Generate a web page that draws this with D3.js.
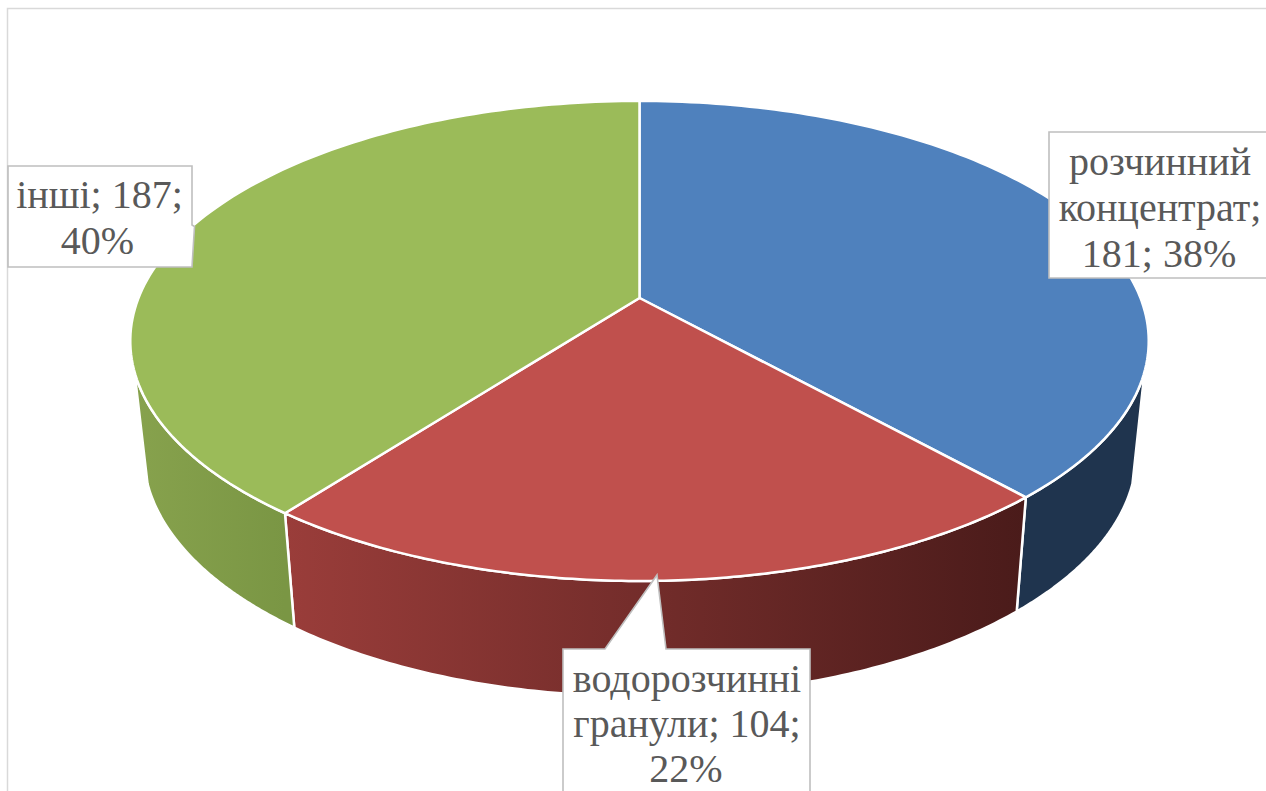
<!DOCTYPE html>
<html>
<head>
<meta charset="utf-8">
<script src="https://cdn.jsdelivr.net/npm/d3@7"></script>
<style>
html, body { margin: 0; padding: 0; background: #fff; overflow: hidden; }
svg { display: block; }
.label-box { fill: #fff; stroke: #bfbfbf; stroke-width: 1.6; }
.label-text { font-family: "Liberation Serif", serif; font-size: 40px; fill: #595959; text-anchor: middle; }
</style>
</head>
<body>
<svg width="1266" height="791"></svg>
<script>
var categories = ['розчинний концентрат', 'водорозчинні гранули', 'інші'];
var values = [181, 104, 187];
var percents = ['38%', '22%', '40%'];
var topColors = ['#4f81bd', '#c0504d', '#9bbb59'];
var sideFrom = ['#1f344e', '#9a3d3a', '#87a24d'];
var sideTo = ['#1f344e', '#4a1b1a', '#7a9644'];

// label lines as they are wrapped in the picture
var labelLines = [
	['розчинний', 'концентрат;', values[0] + '; ' + percents[0]],
	[categories[1].split(' ')[0], 'гранули; ' + values[1] + ';', percents[1]],
	['інші; ' + values[2] + ';', percents[2]]
];

var svg = d3.select('svg');
var defs = svg.append('defs');

// chart frame
svg.append('path')
	.attr('d', 'M7.5,791V8.5H1266')
	.attr('fill', 'none')
	.attr('stroke', '#d9d9d9')
	.attr('stroke-width', 1.5);

/* perspective of the disc: k is how fast the rim grows towards the viewer */
var k = 0.179;
var topRim = { x0: 639.5, y0: 298, bx: 501, by: 232.3 };
var bottomRim = { x0: 640, y0: 409, bx: 488.5, by: 236 };

function project(rim, angle) {
	var u = Math.sin(angle), v = -Math.cos(angle), w = 1 - k * v;
	return [rim.x0 + rim.bx * u / w, rim.y0 + rim.by * v / w];
}

function arcPoints(rim, a0, a1) {
	return d3.range(0, 121).map(function (i) {
		return project(rim, a0 + (a1 - a0) * i / 120);
	});
}

var line = d3.line();
var pie = d3.pie().sort(null)(values);

// the side wall shows only on the front part of the disc
var visibleFrom = Math.acos(-0.3);
var visibleTo = 2 * Math.PI - visibleFrom;

pie.forEach(function (d, i) {
	var a0 = Math.max(d.startAngle, visibleFrom);
	var a1 = Math.min(d.endAngle, visibleTo);
	var upper = arcPoints(topRim, a0, a1);
	var lower = arcPoints(bottomRim, a0, a1).reverse();

	var grad = defs.append('linearGradient')
		.attr('id', 'side' + i)
		.attr('gradientUnits', 'userSpaceOnUse')
		.attr('x1', d3.min(upper, function (p) { return p[0]; }))
		.attr('x2', d3.max(upper, function (p) { return p[0]; }))
		.attr('y1', 0).attr('y2', 0);
	grad.append('stop').attr('offset', 0).attr('stop-color', sideFrom[i]);
	grad.append('stop').attr('offset', 1).attr('stop-color', sideTo[i]);

	svg.append('path')
		.attr('class', 'side')
		.attr('d', line(upper.concat(lower)) + 'Z')
		.attr('fill', 'url(#side' + i + ')')
		.attr('stroke', '#fff')
		.attr('stroke-width', 2.5)
		.attr('stroke-linejoin', 'round');
});

pie.forEach(function (d, i) {
	var rim = arcPoints(topRim, d.startAngle, d.endAngle);
	svg.append('path')
		.attr('class', 'slice')
		.attr('d', line([[topRim.x0, topRim.y0]].concat(rim)) + 'Z')
		.attr('fill', topColors[i])
		.attr('stroke', '#fff')
		.attr('stroke-width', 2.5)
		.attr('stroke-linejoin', 'round');
});

/* callout boxes, outline includes the pointer */
var boxes = [
	{ d: 'M1049,132H1268V278H1049Z', cx: [1160, 1160, 1159], base: [175, 221, 267] },
	{ d: 'M563,649H605L657,575L666,649H810V795H563Z', cx: [687, 687, 686], base: [692, 737, 782] },
	{ d: 'M8,166H192V225L194.5,226.5L192,267H8Z', cx: [99.5, 97.5], base: [208, 254] }
];

boxes.forEach(function (b, i) {
	svg.append('path').attr('class', 'label-box').attr('d', b.d);
	labelLines[i].forEach(function (t, j) {
		svg.append('text')
			.attr('class', 'label-text')
			.attr('x', b.cx[j])
			.attr('y', b.base[j])
			.text(t);
	});
});
</script>
</body>
</html>
